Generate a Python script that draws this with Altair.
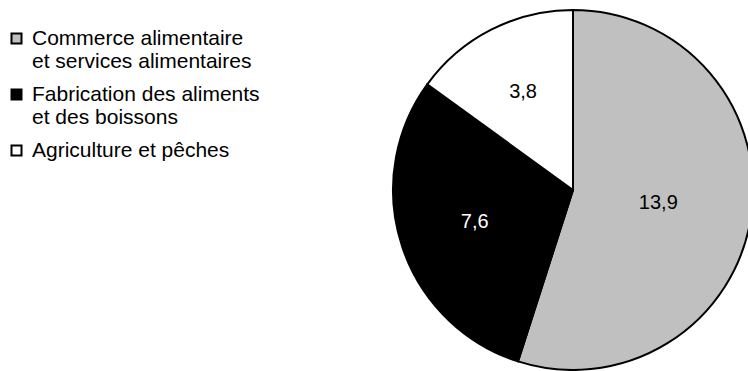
import altair as alt
import pandas as pd

categories = [
    "Commerce alimentaire\net services alimentaires",
    "Fabrication des aliments\net des boissons",
    "Agriculture et pêches",
]
values = [13.9, 7.6, 3.8]
fill_colors = ["#C0C0C0", "#000000", "#FFFFFF"]
label_colors = ["#000000", "#FFFFFF", "#000000"]

df = pd.DataFrame({
    "cat": categories,
    "value": values,
    "ord": list(range(len(categories))),
    "tc": label_colors,
})

FONT = "Liberation Sans"
R = 180

pie = alt.Chart(df).mark_arc(outerRadius=R, stroke="black", strokeWidth=2).encode(
    theta=alt.Theta("value:Q", stack=True),
    order=alt.Order("ord:Q"),
    x=alt.value(573),
    y=alt.value(190),
    color=alt.Color(
        "cat:N",
        scale=alt.Scale(domain=categories, range=fill_colors),
        sort=categories,
        legend=alt.Legend(
            title=None,
            orient="none",
            legendX=6,
            legendY=28,
            symbolType="square",
            symbolSize=100,
            symbolStrokeColor="black",
            symbolStrokeWidth=2,
            labelFont=FONT,
            labelFontSize=21,
            labelColor="black",
            labelExpr="indexof(datum.label, '\\n') < 0 ? [datum.label, ' '] : split(datum.label, '\\n')",
            labelLimit=500,
            labelOffset=5,
            labelBaseline="middle",
            rowPadding=11,
        ),
    ),
)

text = alt.Chart(df).transform_joinaggregate(
    total="sum(value)"
).transform_window(
    cum="sum(value)",
    sort=[alt.SortField("ord")],
    frame=[None, 0],
).transform_calculate(
    lab="replace(format(datum.value, '.1f'), '.', ',')",
    ang="2 * PI * datum.value / datum.total",
    mid="2 * PI * (datum.cum - datum.value / 2) / datum.total",
).transform_calculate(
    # label distance: blend of the sector centroid and a fixed ring
    lr=f"52 + 0.5 * (4 * {R} * sin(datum.ang / 2) / (3 * datum.ang))",
).mark_text(font=FONT, fontSize=20).encode(
    x=alt.value(573),
    y=alt.value(190),
    theta=alt.Theta("mid:Q", scale=None),
    radius=alt.Radius("lr:Q", scale=None),
    text="lab:N",
    fill=alt.Fill("tc:N", scale=None),
)

chart = (pie + text).properties(
    width=748,
    height=371,
    autosize=alt.AutoSizeParams(type="none"),
    padding=0,
).configure_view(stroke=None)

chart.save("out.html", embed_options={"renderer": "svg", "actions": False})
